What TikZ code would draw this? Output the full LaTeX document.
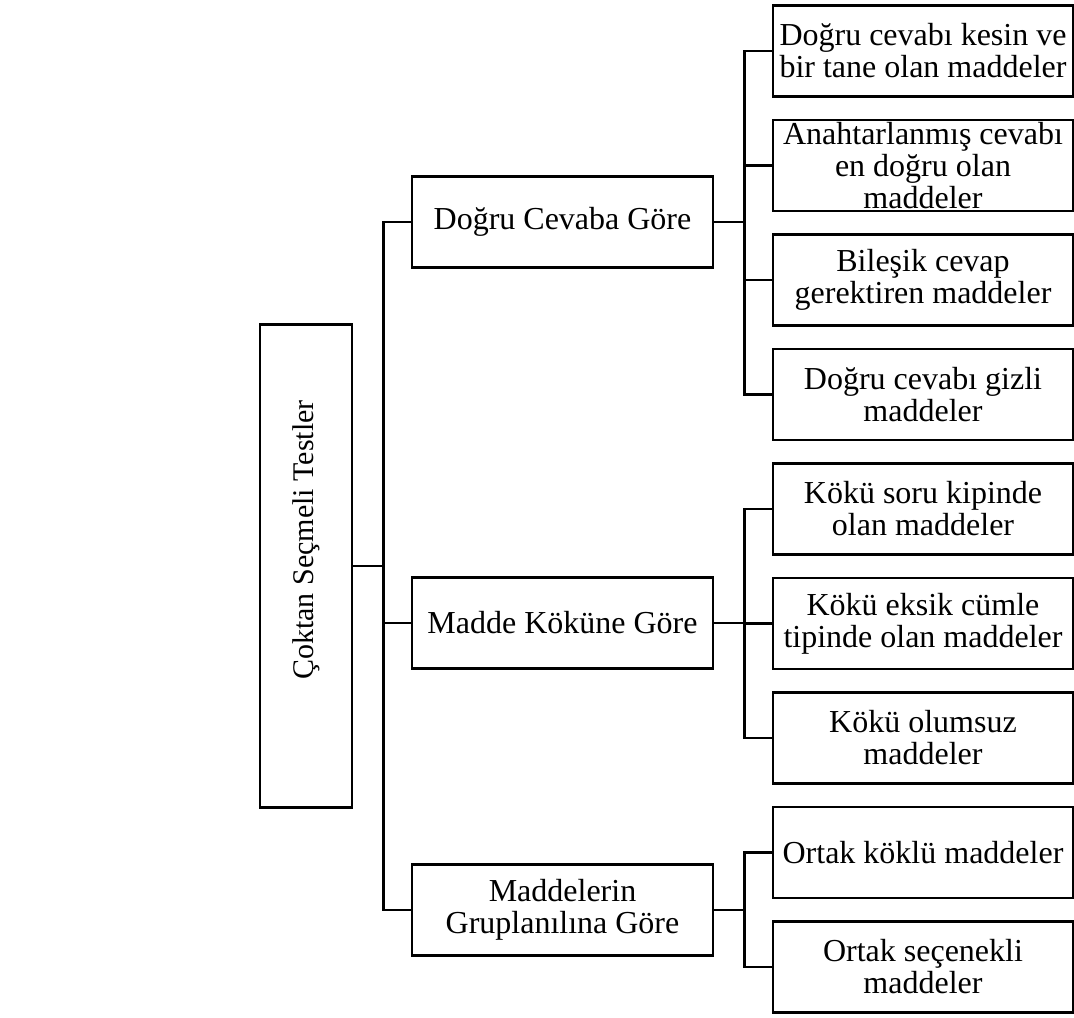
\documentclass[tikz,border=0pt]{standalone}
\usepackage{fontspec}
\setmainfont{Liberation Serif}
\usetikzlibrary{positioning}
\tikzset{
  box/.style={draw, line width=1.3pt, align=center, inner xsep=2pt, inner ysep=0pt,
              font=\fontsize{16pt}{16pt}\selectfont},
  midbox/.style={box, minimum width=150.5pt, minimum height=45.5pt},
  leafbox/.style={box, minimum width=150pt, minimum height=45.5pt},
  conn/.style={line width=1.3pt},
}
\begin{document}
\begin{tikzpicture}[x=0.5pt, y=-0.5pt, node distance=10.45pt]
  \useasboundingbox (0,0) rectangle (1074,1017);
  % root
  \node[box, minimum width=46pt, minimum height=241.5pt, font=\fontsize{15pt}{16pt}\selectfont] (root) at (306,566)
    {\rotatebox{90}{\hspace*{26pt}Çoktan Seçmeli Testler}};
  % categories
  \node[midbox] (dogru) at (562.5,222) {Doğru Cevaba Göre};
  \node[midbox] (kok) at (562.5,623) {Madde Köküne Göre};
  \node[midbox] (grup) at (562.5,910) {Maddelerin\\Gruplanılına Göre};
  % leaves
  \node[leafbox] (d1) at (923,51) {Doğru cevabı kesin ve\\bir tane olan maddeler};
  \node[leafbox, below=of d1] (d2) {Anahtarlanmış cevabı\\en doğru olan\\maddeler};
  \node[leafbox, below=of d2] (d3) {Bileşik cevap\\gerektiren maddeler};
  \node[leafbox, below=of d3] (d4) {Doğru cevabı gizli\\maddeler};
  \node[leafbox, below=of d4] (k1) {Kökü soru kipinde\\olan maddeler};
  \node[leafbox, below=of k1] (k2) {Kökü eksik cümle\\tipinde olan maddeler};
  \node[leafbox, below=of k2] (k3) {Kökü olumsuz\\maddeler};
  \node[leafbox, below=of k3] (g1) {Ortak köklü maddeler};
  \node[leafbox, below=of g1] (g2) {Ortak seçenekli\\maddeler};
  % connectors
  \foreach \m in {dogru,kok,grup}
    \draw[conn] (root.east) -- ++(15pt,0) |- (\m.west);
  \foreach \l in {d1,d2,d3,d4}
    \draw[conn] (dogru.east) -- ++(15pt,0) |- (\l.west);
  \foreach \l in {k1,k2,k3}
    \draw[conn] (kok.east) -- ++(15pt,0) |- (\l.west);
  \foreach \l in {g1,g2}
    \draw[conn] (grup.east) -- ++(15pt,0) |- (\l.west);
\end{tikzpicture}
\end{document}
